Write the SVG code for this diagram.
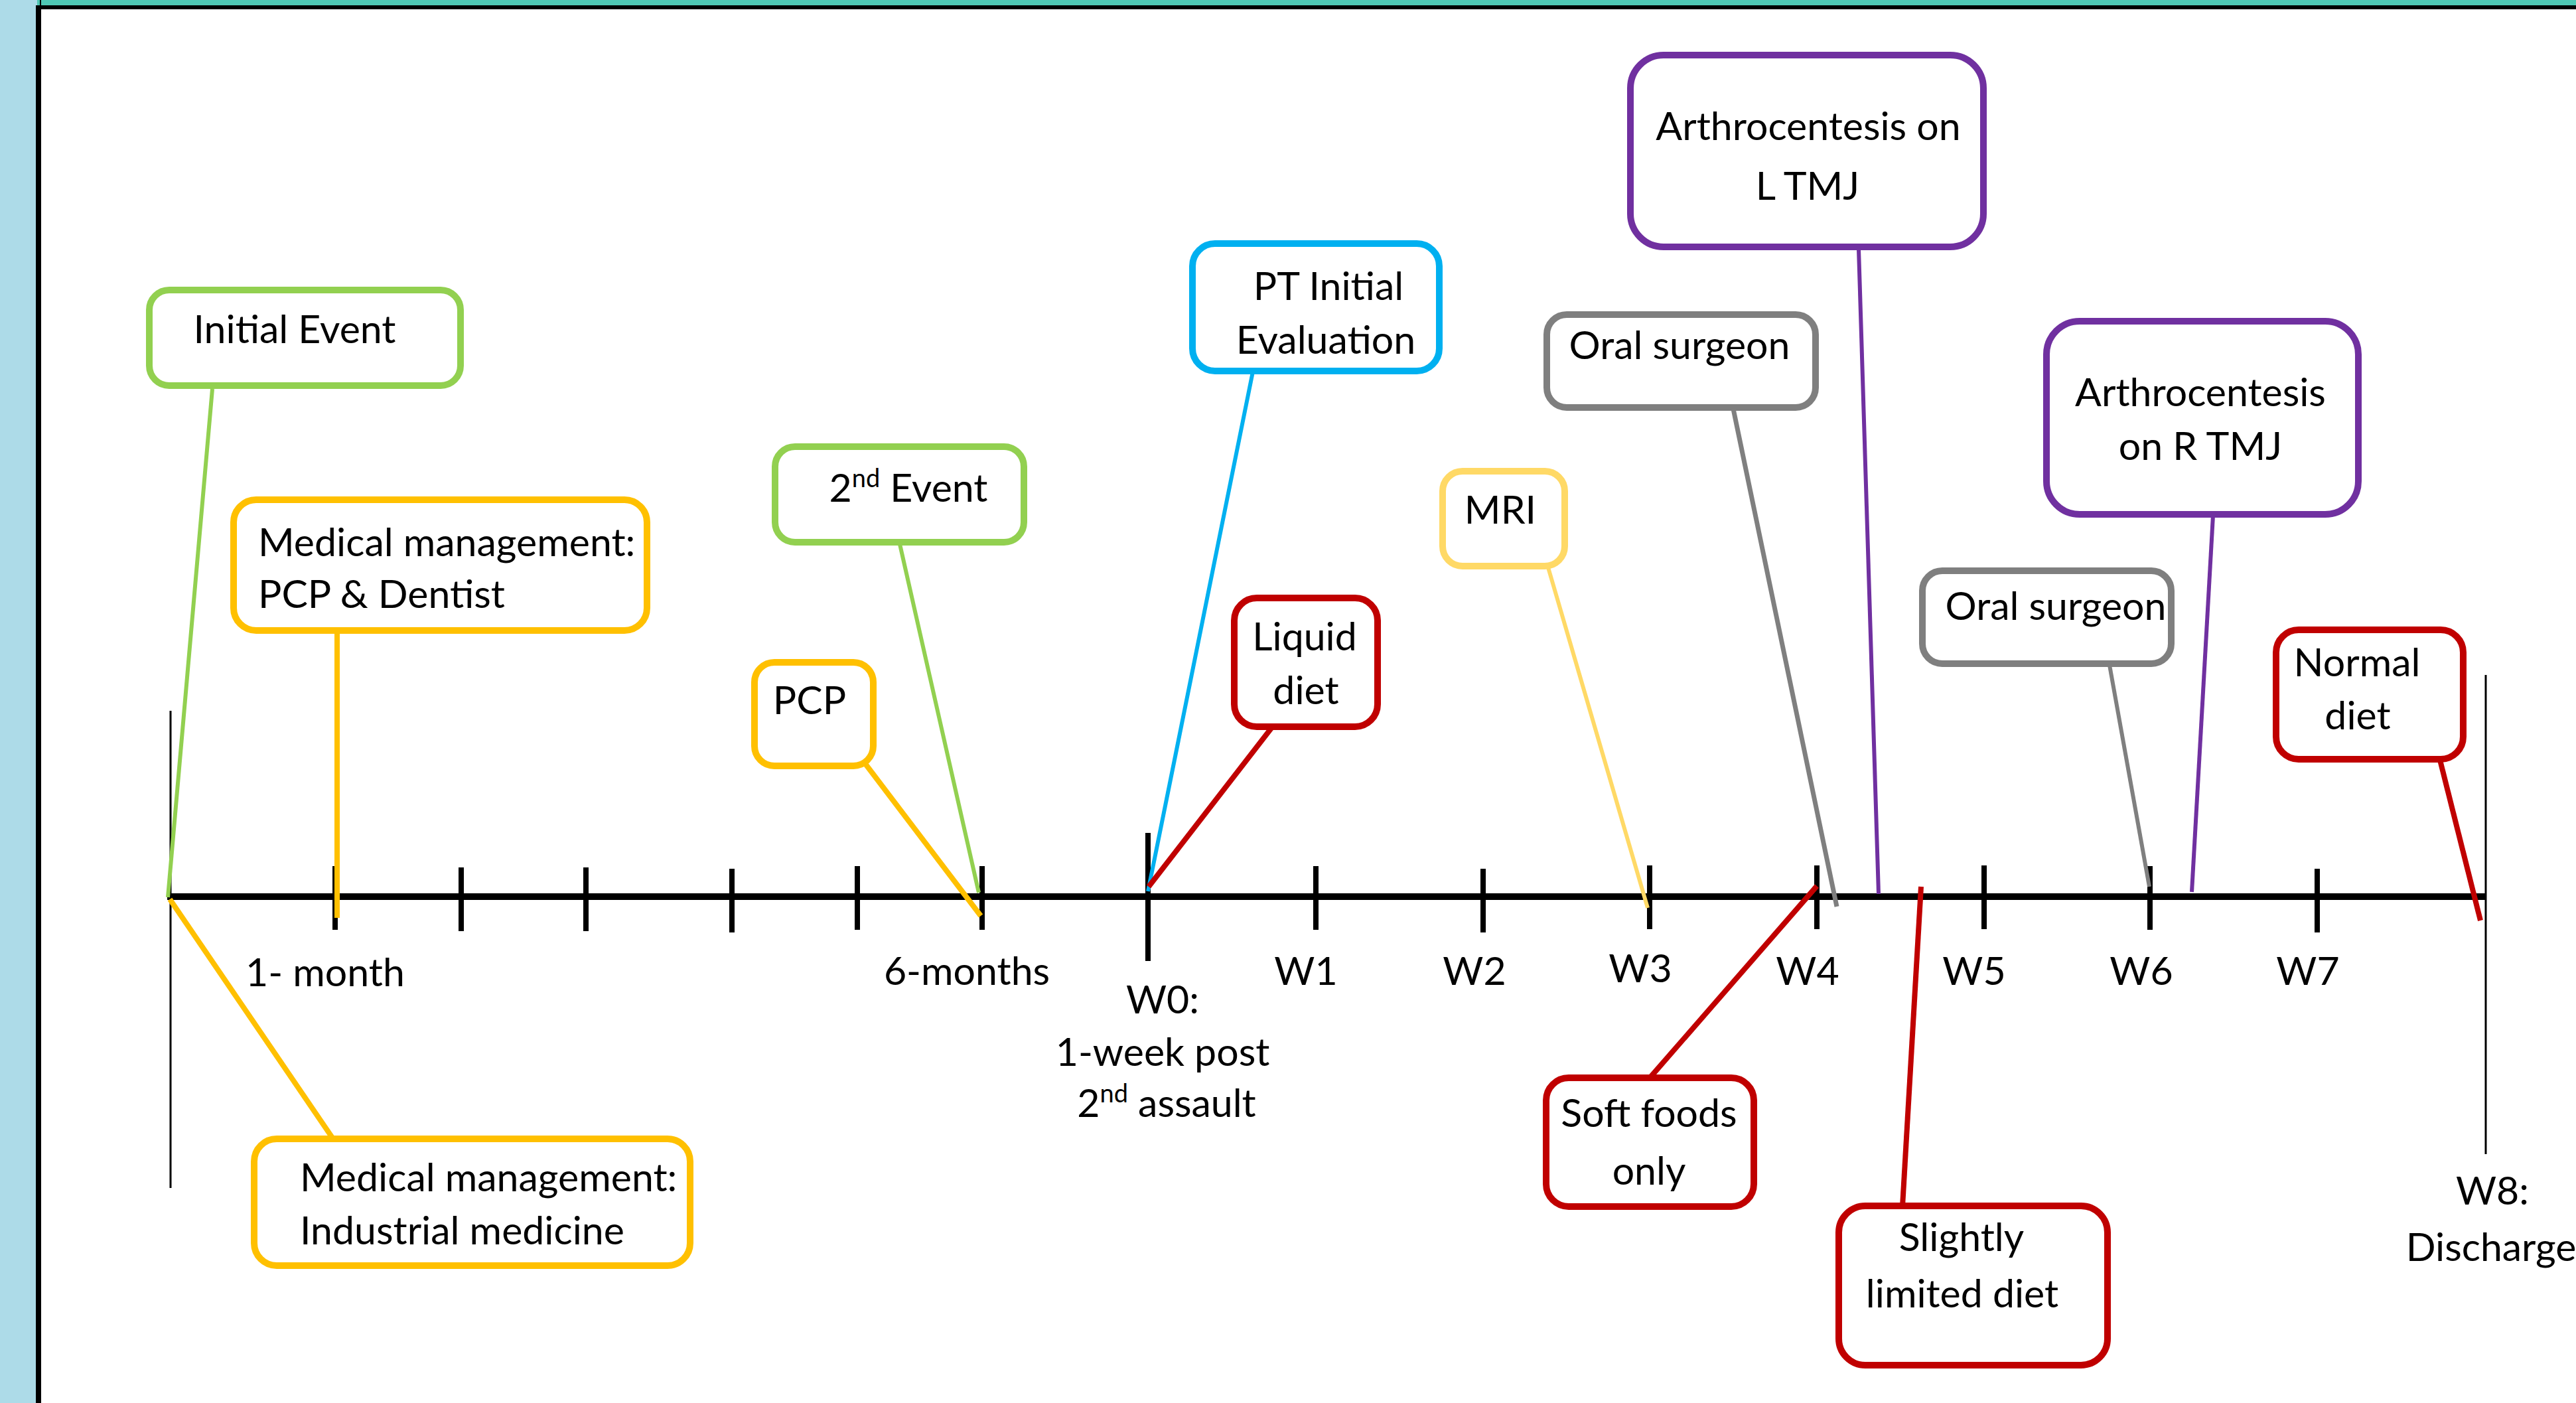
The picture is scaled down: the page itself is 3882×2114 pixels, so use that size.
<svg xmlns="http://www.w3.org/2000/svg" width="3882" height="2114" viewBox="0 0 3882 2114">
<style>
text{font-family:Lato,"Liberation Sans",sans-serif;font-size:59px;fill:#000}
.box{fill:#fff;stroke-width:10}
.g{stroke:#92D050}.o{stroke:#FFC000}.b{stroke:#00B0F0}.r{stroke:#C00000}.y{stroke:#FFD966}.k{stroke:#7F7F7F}.p{stroke:#7030A0}
.c{fill:none;stroke-linecap:butt}
.m{text-anchor:middle}
.tick{stroke:#000;stroke-width:8}
</style>
<rect x="0" y="0" width="3882" height="2114" fill="#fff"/>
<rect x="0" y="0" width="56" height="2114" fill="#ADDBE8"/>
<rect x="56" y="0" width="3826" height="9" fill="#4FC8B4"/>
<line x1="58" y1="8" x2="58" y2="2114" stroke="#000" stroke-width="8"/>
<line x1="61" y1="0" x2="61" y2="10" stroke="#000" stroke-width="2"/>
<line x1="54" y1="11" x2="3882" y2="11" stroke="#000" stroke-width="6"/>

<g id="axis">
<line x1="252" y1="1351" x2="3746" y2="1351" stroke="#000" stroke-width="10"/>
<line x1="257" y1="1071" x2="257" y2="1790" stroke="#000" stroke-width="3"/>
<line x1="3746" y1="1017" x2="3746" y2="1739" stroke="#000" stroke-width="3"/>
<line class="tick" x1="505" y1="1305" x2="505" y2="1401"/>
<line class="tick" x1="695" y1="1307" x2="695" y2="1403"/>
<line class="tick" x1="883" y1="1307" x2="883" y2="1403"/>
<line class="tick" x1="1103" y1="1309" x2="1103" y2="1405"/>
<line class="tick" x1="1292" y1="1305" x2="1292" y2="1401"/>
<line class="tick" x1="1480" y1="1305" x2="1480" y2="1401"/>
<line class="tick" x1="1730" y1="1255" x2="1730" y2="1448"/>
<line class="tick" x1="1983" y1="1305" x2="1983" y2="1401"/>
<line class="tick" x1="2235" y1="1309" x2="2235" y2="1405"/>
<line class="tick" x1="2486" y1="1304" x2="2486" y2="1400"/>
<line class="tick" x1="2738" y1="1304" x2="2738" y2="1400"/>
<line class="tick" x1="2990" y1="1304" x2="2990" y2="1400"/>
<line class="tick" x1="3240" y1="1305" x2="3240" y2="1401"/>
<line class="tick" x1="3492" y1="1309" x2="3492" y2="1405"/>
<text class="m" x="490" y="1486">1- month</text>
<text class="m" x="1457" y="1484">6-months</text>
<text class="m" x="1752" y="1527">W0:</text>
<text class="m" x="1752" y="1606">1-week post</text>
<text class="m" x="1758" y="1683">2<tspan font-size="38" dy="-22">nd</tspan><tspan dy="22"> assault</tspan></text>
<text class="m" x="1968" y="1484">W1</text>
<text class="m" x="2222" y="1484">W2</text>
<text class="m" x="2472" y="1480">W3</text>
<text class="m" x="2724" y="1484">W4</text>
<text class="m" x="2975" y="1484">W5</text>
<text class="m" x="3227" y="1484">W6</text>
<text class="m" x="3478" y="1484">W7</text>
<text class="m" x="3756" y="1815">W8:</text>
<text class="m" x="3754" y="1900">Discharge</text>
</g>

<g id="connectors">
<line class="c g" x1="320" y1="586" x2="253" y2="1352" stroke-width="6"/>
<line class="c o" x1="508" y1="955" x2="508" y2="1383" stroke-width="8"/>
<line class="c o" x1="256" y1="1355" x2="502" y2="1716" stroke-width="8"/>
<line class="c g" x1="1356" y1="820" x2="1475" y2="1345" stroke-width="6"/>
<line class="c o" x1="1295" y1="1139" x2="1478" y2="1380" stroke-width="8"/>
<line class="c b" x1="1888" y1="560" x2="1730" y2="1343" stroke-width="6"/>
<line class="c r" x1="1916" y1="1097" x2="1731" y2="1336" stroke-width="8"/>
<line class="c y" x1="2333" y1="855" x2="2483" y2="1368" stroke-width="6"/>
<line class="c k" x1="2612" y1="616" x2="2768" y2="1366" stroke-width="7"/>
<line class="c p" x1="2801" y1="375" x2="2831" y2="1347" stroke-width="6"/>
<line class="c k" x1="3179" y1="1002" x2="3239" y2="1336" stroke-width="6"/>
<line class="c p" x1="3335" y1="777" x2="3303" y2="1344" stroke-width="6"/>
<line class="c r" x1="3677" y1="1145" x2="3738" y2="1387" stroke-width="8"/>
<line class="c r" x1="2488" y1="1622" x2="2738" y2="1335" stroke-width="8"/>
<line class="c r" x1="2867" y1="1818" x2="2895" y2="1336" stroke-width="8"/>
</g>

<g id="initial-event">
<rect class="box g" x="225" y="437" width="469" height="144" rx="30"/>
<text class="m" x="444" y="517">Initial Event</text>
</g>
<g id="med-pcp-dentist">
<rect class="box o" x="352" y="753" width="623" height="197" rx="34" stroke-width="12"/>
<text x="389" y="838">Medical management:</text>
<text x="389" y="916">PCP &amp; Dentist</text>
</g>
<g id="med-industrial">
<rect class="box o" x="383" y="1716" width="657" height="191" rx="34"/>
<text x="452" y="1795">Medical management:</text>
<text x="452" y="1875">Industrial medicine</text>
</g>
<g id="second-event">
<rect class="box g" x="1168" y="673" width="375" height="144" rx="30"/>
<text class="m" x="1369" y="756">2<tspan font-size="38" dy="-22">nd</tspan><tspan dy="22"> Event</tspan></text>
</g>
<g id="pcp">
<rect class="box o" x="1137" y="998" width="179" height="156" rx="30"/>
<text class="m" x="1220" y="1076">PCP</text>
</g>
<g id="pt-initial">
<rect class="box b" x="1797" y="367" width="372" height="192" rx="34"/>
<text class="m" x="2002" y="452">PT Initial</text>
<text class="m" x="1998" y="533">Evaluation</text>
</g>
<g id="liquid-diet">
<rect class="box r" x="1860" y="901" width="216" height="194" rx="34"/>
<text class="m" x="1966" y="980">Liquid</text>
<text class="m" x="1968" y="1061">diet</text>
</g>
<g id="mri">
<rect class="box y" x="2174" y="710" width="184" height="143" rx="30"/>
<text class="m" x="2261" y="789">MRI</text>
</g>
<g id="oral-surgeon-1">
<rect class="box k" x="2331" y="474" width="405" height="140" rx="30"/>
<text class="m" x="2531" y="541">Oral surgeon</text>
</g>
<g id="arthro-l">
<rect class="box p" x="2457" y="83" width="532" height="289" rx="50" stroke-width="11"/>
<text class="m" x="2725" y="211">Arthrocentesis on</text>
<text class="m" x="2724" y="301">L TMJ</text>
</g>
<g id="oral-surgeon-2">
<rect class="box k" x="2897" y="860" width="375" height="140" rx="30"/>
<text class="m" x="3098" y="934">Oral surgeon</text>
</g>
<g id="arthro-r">
<rect class="box p" x="3084" y="484" width="470" height="291" rx="50" stroke-width="11"/>
<text class="m" x="3316" y="612">Arthrocentesis</text>
<text class="m" x="3316" y="693">on R TMJ</text>
</g>
<g id="normal-diet">
<rect class="box r" x="3430" y="949" width="282" height="195" rx="34"/>
<text class="m" x="3552" y="1019">Normal</text>
<text class="m" x="3553" y="1099">diet</text>
</g>
<g id="soft-foods">
<rect class="box r" x="2330" y="1624" width="313" height="194" rx="34"/>
<text class="m" x="2485" y="1698">Soft foods</text>
<text class="m" x="2485" y="1785">only</text>
</g>
<g id="slightly-limited">
<rect class="box r" x="2771" y="1817" width="405" height="240" rx="40"/>
<text class="m" x="2956" y="1885">Slightly</text>
<text class="m" x="2957" y="1970">limited diet</text>
</g>
</svg>
